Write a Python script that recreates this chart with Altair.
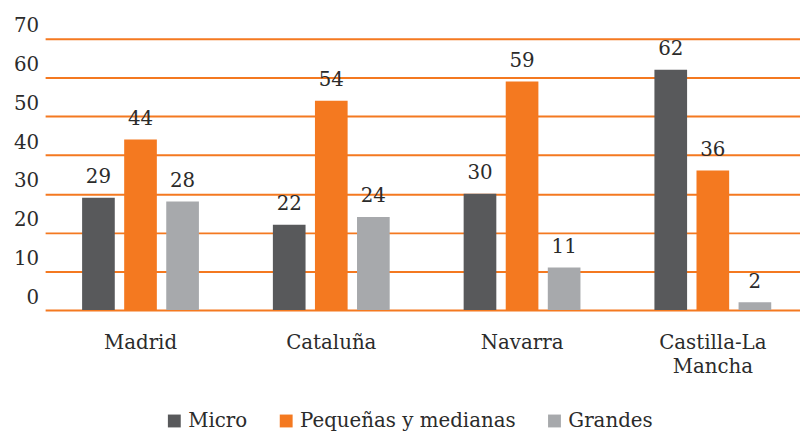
import altair as alt
import pandas as pd

regions = ["Madrid", "Cataluña", "Navarra", "Castilla-La Mancha"]
sizes = ["Micro", "Pequeñas y medianas", "Grandes"]
micro = [29, 22, 30, 62]
pymes = [44, 54, 59, 36]
grandes = [28, 24, 11, 2]
colors = ["#58595b", "#f47920", "#a7a9ac"]
y_ticks = [0, 10, 20, 30, 40, 50, 60, 70]

rows = []
for i, r in enumerate(regions):
    for s, vals in zip(sizes, [micro, pymes, grandes]):
        rows.append({"region": r, "size": s, "value": vals[i]})
df = pd.DataFrame(rows)

FONT = "DejaVu Serif"
TXT = "#2b2b2b"
FS = 20

x_scale = alt.Scale(range=[36.5, 807.3], paddingInner=0, paddingOuter=0)
xo_scale = alt.Scale(paddingInner=0.2235, paddingOuter=0.879)
y_scale = alt.Scale(domain=[0, 70], nice=False)

x_enc = alt.X(
    "region:N",
    sort=regions,
    scale=x_scale,
    axis=alt.Axis(
        title=None, domain=False, ticks=False, labelAngle=0,
        labelFont=FONT, labelFontSize=FS, labelColor=TXT,
        labelPadding=23, labelLineHeight=24,
        labelExpr="split(datum.label, ' ')",
    ),
)
xo_enc = alt.XOffset("size:N", sort=sizes, scale=xo_scale)
y_enc = alt.Y(
    "value:Q",
    scale=y_scale,
    axis=alt.Axis(
        title=None, domain=False, ticks=False, values=y_ticks,
        grid=True, gridColor="#f47920", gridWidth=2,
        labelFont=FONT, labelFontSize=FS, labelColor=TXT,
        labelAlign="right", labelBaseline="alphabetic",
        labelPadding=-30, labelOffset=-7, labelOverlap=False,
    ),
)

bars = alt.Chart(df).mark_bar().encode(
    x=x_enc,
    xOffset=xo_enc,
    y=y_enc,
    color=alt.Color(
        "size:N", sort=sizes,
        scale=alt.Scale(domain=sizes, range=colors),
        legend=alt.Legend(
            title=None, orient="none", direction="horizontal",
            legendX=157, legendY=376,
            symbolType="square", symbolSize=169, symbolStrokeWidth=0,
            labelFont=FONT, labelFontSize=FS, labelColor=TXT,
            labelOffset=4, columnPadding=29, labelLimit=400,
        ),
    ),
)

labels = alt.Chart(df).mark_text(
    baseline="alphabetic", dy=-15, font=FONT, fontSize=FS, color=TXT
).encode(
    x=x_enc,
    xOffset=xo_enc,
    y=y_enc,
    text="value:Q",
)

chart = alt.layer(bars, labels).properties(
    width=799, height=274,
    autosize=alt.AutoSizeParams(type="none"),
    padding={"left": 1, "top": 29, "right": 0, "bottom": 124},
).configure_view(stroke=None)

chart.save("out.html", embed_options={"renderer": "svg", "actions": False})
